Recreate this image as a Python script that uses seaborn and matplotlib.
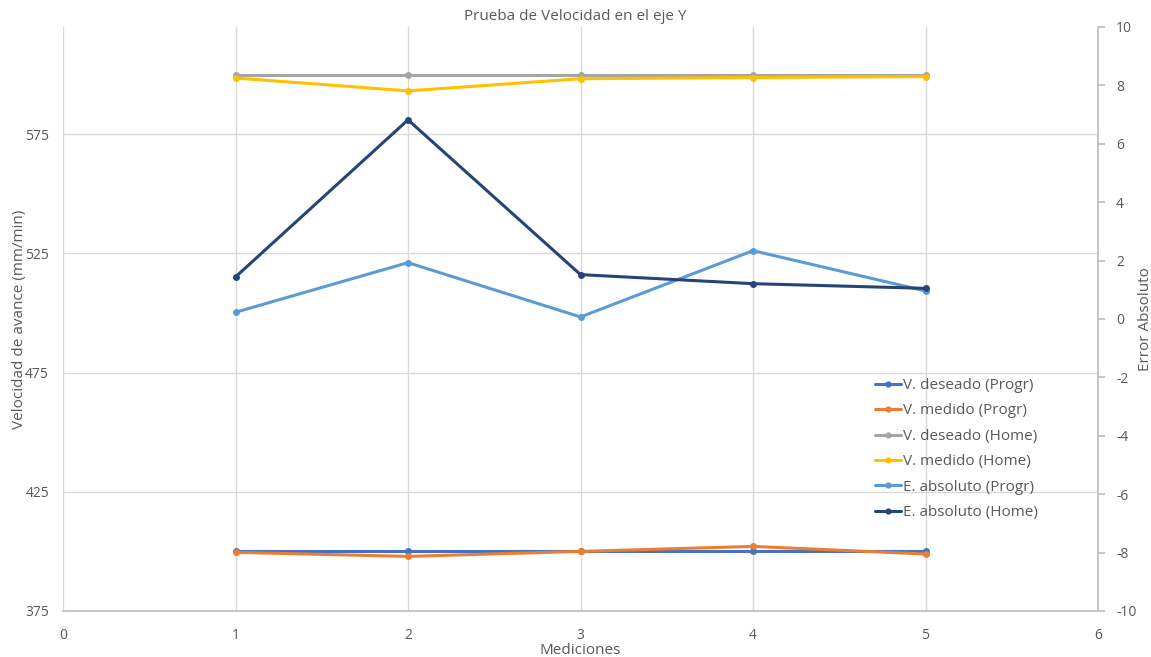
import matplotlib
matplotlib.use("Agg")
import matplotlib.pyplot as plt
from matplotlib.lines import Line2D
import seaborn as sns
import pandas as pd

# Measurements
mediciones = [1, 2, 3, 4, 5]
v_deseado_progr = [400.0, 400.0, 400.0, 400.0, 400.0]
v_medido_progr = [399.6, 397.9, 400.0, 402.1, 398.9]
v_deseado_home = [600.0, 600.0, 600.0, 600.0, 600.0]
v_medido_home = [598.6, 593.2, 598.3, 598.8, 599.2]
e_abs_progr = [0.23, 1.93, 0.07, 2.34, 0.96]
e_abs_home = [1.44, 6.82, 1.52, 1.21, 1.05]

names_left = ["V. deseado (Progr)", "V. medido (Progr)",
              "V. deseado (Home)", "V. medido (Home)"]
names_right = ["E. absoluto (Progr)", "E. absoluto (Home)"]
colors = {
    "V. deseado (Progr)": "#4472C4",
    "V. medido (Progr)": "#ED7D31",
    "V. deseado (Home)": "#A5A5A5",
    "V. medido (Home)": "#FFC000",
    "E. absoluto (Progr)": "#5B9BD5",
    "E. absoluto (Home)": "#264478",
}

left_df = pd.concat([
    pd.DataFrame({"Medicion": mediciones, "Valor": vals, "Serie": name})
    for name, vals in zip(names_left, [v_deseado_progr, v_medido_progr,
                                       v_deseado_home, v_medido_home])
], ignore_index=True)
right_df = pd.concat([
    pd.DataFrame({"Medicion": mediciones, "Valor": vals, "Serie": name})
    for name, vals in zip(names_right, [e_abs_progr, e_abs_home])
], ignore_index=True)

sns.set_theme(style="white")
plt.rcParams["font.family"] = ["Open Sans", "DejaVu Sans"]
plt.rcParams["axes.unicode_minus"] = False
text_color = "#595959"
grid_color = "#D9D9D9"

fig = plt.figure(figsize=(11.51, 6.57), dpi=100)
ax = fig.add_axes([63 / 1151, 46 / 657, (1098 - 63) / 1151, (611 - 27) / 657])

line_kw = dict(linewidth=2.2, marker="o", markersize=5, markeredgewidth=0)
sns.lineplot(data=left_df, x="Medicion", y="Valor", hue="Serie",
             hue_order=names_left, palette=colors, ax=ax, legend=False, **line_kw)

ax2 = ax.twinx()
sns.lineplot(data=right_df, x="Medicion", y="Valor", hue="Serie",
             hue_order=names_right, palette=colors, ax=ax2, legend=False, **line_kw)

ax.set_xlim(0, 6)
ax.set_ylim(375, 620)
ax.set_yticks([375, 425, 475, 525, 575])
ax.set_xticks(range(0, 7))
ax2.set_ylim(-10, 10)
ax2.set_yticks(range(-10, 11, 2))

# Gridlines
for yv in [425, 475, 525, 575]:
    ax.axhline(yv, color=grid_color, linewidth=1.0, zorder=0)
for xv in [0, 1, 2, 3, 4, 5]:
    ax.axvline(xv, color=grid_color, linewidth=1.0, zorder=0)
ax.grid(False)
ax2.grid(False)

for a in (ax, ax2):
    for s in a.spines.values():
        s.set_visible(False)
ax.spines["bottom"].set_visible(True)
ax.spines["bottom"].set_color("#BFBFBF")
ax2.spines["right"].set_visible(True)
ax2.spines["right"].set_color("#BFBFBF")

ax.tick_params(axis="both", length=0, labelsize=10, labelcolor=text_color)
ax.tick_params(axis="x", pad=12)
ax.tick_params(axis="y", pad=10)
ax2.tick_params(axis="y", length=5, color="#BFBFBF", labelsize=10,
                labelcolor=text_color, pad=8, direction="out")

ax.set_xlabel("Mediciones", fontsize=11, color=text_color)
ax.xaxis.set_label_coords(0.5, -32 / 584)
ax.set_ylabel("Velocidad de avance (mm/min)", fontsize=11, color=text_color)
ax.yaxis.set_label_coords(-36 / 1035, 0.5)
ax2.set_ylabel("Error Absoluto", fontsize=11, color=text_color)
ax2.yaxis.set_label_coords(1 + 40 / 1035, 0.5)

fig.text(0.5, 1 - 16 / 657, "Prueba de Velocidad en el eje Y", ha="center",
         va="center", fontsize=11, color=text_color)

leg_handles = [Line2D([], [], color=colors[n], linewidth=2.2, marker="o",
                      markersize=4.5, markeredgewidth=0) for n in names_left + names_right]
leg = ax2.legend(leg_handles, names_left + names_right, loc="upper left",
                 bbox_to_anchor=(806 / 1035, (611 - 372) / 584), frameon=False,
                 fontsize=11, handlelength=1.7, handletextpad=0.15,
                 labelspacing=0.68, borderaxespad=0)
for t in leg.get_texts():
    t.set_color(text_color)

fig.savefig("out.png", dpi=100)
